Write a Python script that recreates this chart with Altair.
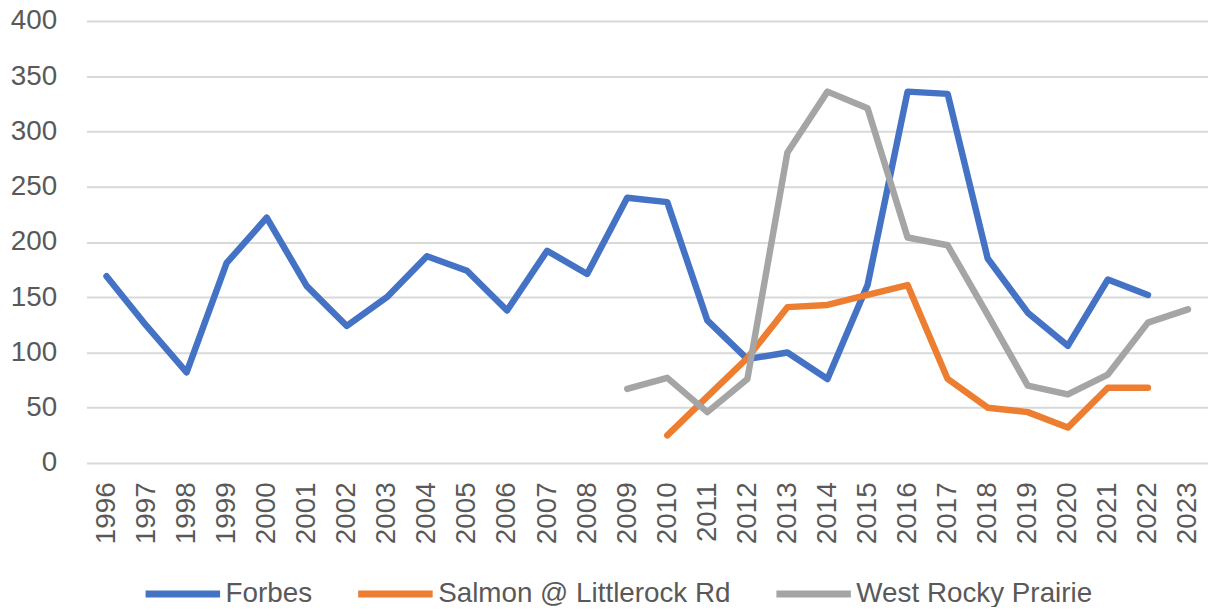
import altair as alt
import pandas as pd

years = [str(y) for y in range(1996, 2024)]
forbes = [169, 124, 82, 181, 222, 160, 124, 150, 187, 174, 138, 192, 171, 240,
          236, 129, 94, 100, 76, 161, 336, 334, 185, 136, 106, 166, 152, None]
salmon = [None] * 14 + [25, 60, 95, 141, 143, 152, 161, 76, 50, 46, 32, 68, 68, None]
west = [None] * 13 + [67, 77, 46, 76, 281, 336, 321, 204, 197, 134, 70, 62, 80, 127, 139]

series_names = ["Forbes", "Salmon @ Littlerock Rd", "West Rocky Prairie"]
series_vals = [forbes, salmon, west]
colors = ["#4472C4", "#ED7D31", "#A5A5A5"]

rows = []
for name, vals in zip(series_names, series_vals):
    for i, (yr, v) in enumerate(zip(years, vals)):
        rows.append({"year": yr, "value": v, "series": name, "ord": series_names.index(name)})
df = pd.DataFrame(rows)

FONT = "Liberation Sans"
TXT = "#595959"

chart = alt.Chart(df).mark_line(
    strokeWidth=6.5, strokeCap="round", strokeJoin="round"
).encode(
    x=alt.X("year:O", sort=years,
            scale=alt.Scale(type="point", padding=0.5),
            axis=alt.Axis(title=None, labelAngle=-90, ticks=False, domain=False,
                          grid=False, labelPadding=19, labelFontSize=28,
                          labelFont=FONT, labelColor=TXT)),
    y=alt.Y("value:Q", scale=alt.Scale(domain=[0, 400], nice=False, zero=True),
            axis=alt.Axis(title=None, values=[0, 50, 100, 150, 200, 250, 300, 350, 400],
                          ticks=False, domain=False, grid=True, gridColor="#D9D9D9",
                          gridWidth=2, labelPadding=30, labelFontSize=28,
                          labelFont=FONT, labelColor=TXT)),
    color=alt.Color("series:N",
                    scale=alt.Scale(domain=series_names, range=colors),
                    legend=alt.Legend(title=None, orient="none", direction="horizontal",
                                      legendX=56, legendY=536,
                                      symbolType="stroke", symbolStrokeWidth=7,
                                      symbolSize=5625, labelOffset=2,
                                      columnPadding=31, labelFontSize=28,
                                      labelFont=FONT, labelColor=TXT,
                                      labelLimit=500)),
    order=alt.Order("ord:Q"),
).properties(
    width=1129, height=445,
    padding={"left": 79, "top": 11, "right": 0, "bottom": 143},
    autosize=alt.AutoSizeParams(type="none"),
).configure_view(stroke=None)

chart.save("out.html", embed_options={"renderer": "svg", "actions": False})
